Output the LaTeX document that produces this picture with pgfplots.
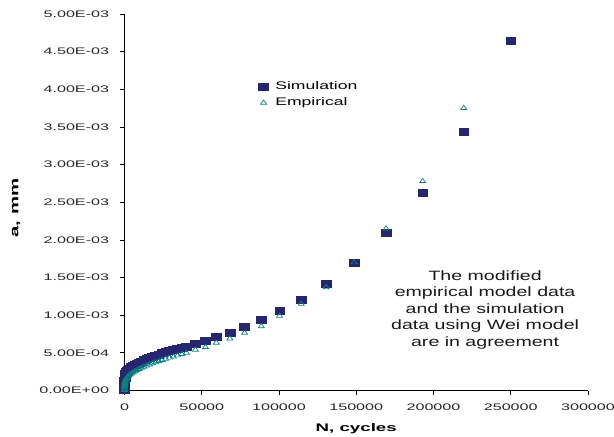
\documentclass[border=0pt]{standalone}
\usepackage{pgfplots}
\pgfplotsset{compat=1.18}
\usepackage{fontspec}
\setmainfont{Liberation Sans}
\newfontfamily\tickfont{Liberation Sans}[FakeStretch=1.7]
\newfontfamily\legfont{Liberation Sans}[FakeStretch=1.6]
\newfontfamily\annfont{Liberation Sans}[FakeStretch=1.45]
\newfontfamily\labfont{Liberation Sans}[FakeStretch=1.7]
\definecolor{simblue}{RGB}{38,38,112}
\definecolor{empteal}{RGB}{10,130,130}

\pgfplotstableread{
N a
0 0.00001
5 0.00004
15 0.00007
30 0.00010
60 0.00013
100 0.00015
200 0.000175
300 0.00019
450 0.000205
700 0.00022
1000 0.000235
1300 0.000245
1900 0.00026
2600 0.000275
3500 0.000293
4500 0.00031
5600 0.000325
6800 0.00034
8000 0.000355
9400 0.000372
11000 0.000388
12600 0.000405
14400 0.00042
16200 0.000438
18100 0.000452
20100 0.000468
22200 0.000482
24300 0.000497
26700 0.00051
29100 0.000523
31700 0.000538
34300 0.000553
37200 0.00057
40100 0.000585
45900 0.00062
52400 0.000665
59400 0.00071
68200 0.00077
77700 0.000845
88500 0.000935
100400 0.001055
114400 0.00121
130500 0.00142
148600 0.00170
169300 0.00210
193000 0.00263
219600 0.00344
250000 0.00464
}\simdata

\pgfplotstableread{
N a
0 0.000005
5 0.00002
15 0.000035
30 0.00005
60 0.000065
100 0.000075
200 0.000095
300 0.00011
450 0.000125
700 0.00014
1000 0.000155
1300 0.000165
1900 0.00018
2600 0.000195
3500 0.00021
4500 0.000225
5600 0.00024
6800 0.000255
8000 0.00027
9400 0.000285
11000 0.0003
12600 0.000315
14400 0.00033
16200 0.000345
18100 0.00036
20100 0.000375
22200 0.00039
24300 0.000405
26700 0.00042
29100 0.000435
31700 0.00045
34300 0.000465
37200 0.000483
40100 0.000501
45900 0.000541
52400 0.000576
59400 0.000634
68200 0.00069
77700 0.000765
88500 0.000853
100400 0.00099
114400 0.00115
130500 0.00137
148600 0.00170
169300 0.00215
193000 0.00278
219600 0.00375
}\empdata

\begin{document}
\begin{tikzpicture}
\begin{axis}[
  at={(124.5bp,46.5bp)}, anchor=south west,
  scale only axis, width=463.5bp, height=376.5bp,
  xmin=0, xmax=300000, ymin=0, ymax=0.005,
  axis x line=bottom, axis y line=left,
  axis line style={-, black, line width=0.9bp},
  tick align=outside, major tick length=4.5bp,
  tick style={black, line width=0.8bp},
  xtick={0,50000,100000,150000,200000,250000,300000},
  xticklabels={0,50000,100000,150000,200000,250000,300000},
  ytick={0,0.0005,0.001,0.0015,0.002,0.0025,0.003,0.0035,0.004,0.0045,0.005},
  yticklabels={0.00E+00,5.00E-04,1.00E-03,1.50E-03,2.00E-03,2.50E-03,3.00E-03,3.50E-03,4.00E-03,4.50E-03,5.00E-03},
  scaled ticks=false,
  tick label style={font=\tickfont\fontsize{9.5bp}{11bp}\selectfont, text=black!85},
  yticklabel style={inner sep=0pt, xshift=-10.7bp},
  xticklabel style={inner sep=0pt, yshift=-8.6bp},
  xlabel={N, cycles},
  xlabel style={at={(rel axis cs:0.5,0)}, anchor=base, yshift=-40.5bp, inner sep=0pt,
    font=\labfont\bfseries\fontsize{11bp}{13bp}\selectfont},
  ylabel={a, mm},
  ylabel style={at={(rel axis cs:-0.234,0.485)}, anchor=center, inner sep=0pt,
    font=\labfont\bfseries\fontsize{12bp}{14bp}\selectfont},
  clip=false,
  legend style={at={(rel axis cs:0.2895,0.822)}, anchor=north west, draw=none, fill=none,
    inner sep=0pt, outer sep=0pt, row sep=6bp,
    font=\legfont\fontsize{11bp}{13bp}\selectfont,
    nodes={inner sep=0pt, text height=8bp, text depth=2.5bp, anchor=base west}},
  legend cell align=left,
  legend image code/.code={\draw[#1] plot coordinates {(2.8bp,2.7bp)}; \path[draw=none, fill=none] (0bp,0bp) rectangle (14.5bp,3bp);},
]
\addplot[only marks, mark=square*, mark size=3.5bp, mark options={xscale=1.4, draw=simblue, fill=simblue}] table[x=N, y=a] {\simdata};
\addlegendentry{Simulation}
\addplot[only marks, mark=triangle, mark size=2.8bp, mark options={xscale=1.25, draw=empteal, fill=white, line width=0.7bp}] table[x=N, y=a] {\empdata};
\addlegendentry{Empirical}
\node[align=center, anchor=north, inner sep=0pt, font=\annfont\fontsize{13.5bp}{16.5bp}\selectfont, text=black!90]
  at (rel axis cs:0.778,0.3187) {The modified\\empirical model data\\and the simulation\\data using Wei model\\are in agreement};
\end{axis}
\pgfresetboundingbox
\path (0,0) rectangle (614bp,437bp);
\end{tikzpicture}
\end{document}
